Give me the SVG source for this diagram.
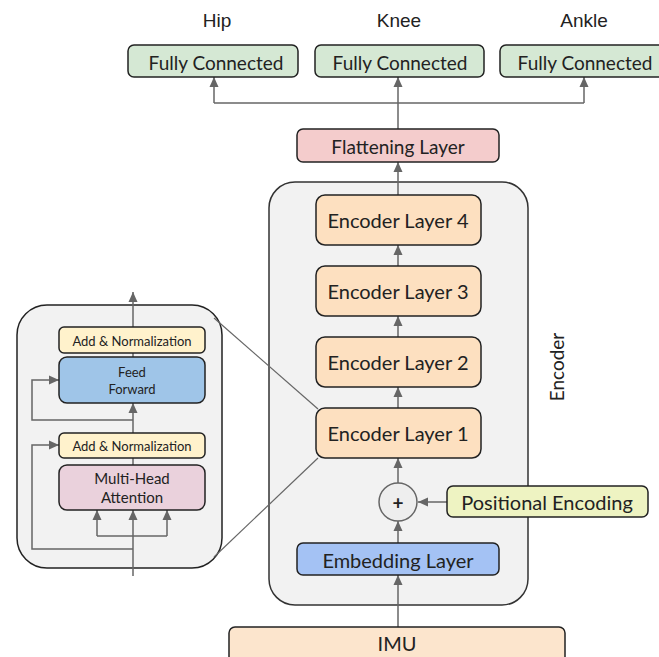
<svg xmlns="http://www.w3.org/2000/svg" width="659" height="657" viewBox="0 0 659 657">
<defs>
<marker id="ah" viewBox="0 0 10 10" refX="10" refY="5" markerWidth="10" markerHeight="10" markerUnits="userSpaceOnUse" orient="auto">
<path d="M0,0.5 L10,5 L0,9.5 z" fill="#666"/>
</marker>
<style>
.box{stroke:#222;stroke-width:1.5}
.t{font-family:Lato,"Open Sans",sans-serif;fill:#222;text-anchor:middle;dominant-baseline:central}
.lbl{font-family:"Liberation Sans",Arial,sans-serif;fill:#222;text-anchor:middle;font-size:19px}
.c{fill:none;stroke:#666;stroke-width:1.5}
.a{fill:none;stroke:#666;stroke-width:1.5;marker-end:url(#ah)}
.thin{fill:none;stroke:#666;stroke-width:1.2}
</style>
</defs>
<rect width="659" height="657" fill="#fff"/>

<g id="encoder-container">
<rect x="269" y="182" width="259" height="423" rx="26" fill="#f2f2f2" stroke="#333" stroke-width="1.5"/>
<text class="t" font-size="19" transform="translate(556,367) rotate(-90)">Encoder</text>
</g>

<g id="detail-container">
<rect x="17" y="305" width="205" height="263" rx="30" fill="#f2f2f2" stroke="#222" stroke-width="1.5"/>
</g>

<g id="connectors">
<line class="c" x1="398" y1="129" x2="398" y2="103"/>
<line class="c" x1="214" y1="103" x2="584" y2="103"/>
<line class="a" x1="214" y1="103" x2="214" y2="77"/>
<line class="a" x1="398" y1="103" x2="398" y2="77"/>
<line class="a" x1="584" y1="103" x2="584" y2="77"/>
<line class="a" x1="398" y1="195" x2="398" y2="162"/>
<line class="a" x1="398" y1="266" x2="398" y2="245"/>
<line class="a" x1="398" y1="337" x2="398" y2="316"/>
<line class="a" x1="398" y1="408" x2="398" y2="387"/>
<line class="a" x1="398" y1="483" x2="398" y2="458"/>
<line class="a" x1="398" y1="543" x2="398" y2="521"/>
<line class="a" x1="447" y1="502" x2="418" y2="502"/>
<line class="a" x1="398" y1="627" x2="398" y2="575"/>
<line class="thin" x1="214" y1="318" x2="318" y2="409"/>
<line class="thin" x1="214" y1="557" x2="318" y2="458"/>
<line class="a" x1="133" y1="576" x2="133" y2="510"/>
<line class="c" x1="97" y1="536" x2="167" y2="536"/>
<line class="a" x1="97" y1="536" x2="97" y2="510"/>
<line class="a" x1="167" y1="536" x2="167" y2="510"/>
<polyline class="a" points="133,549 32,549 32,445 59,445"/>
<line class="c" x1="133" y1="465" x2="133" y2="458"/>
<line class="a" x1="133" y1="433" x2="133" y2="403"/>
<polyline class="a" points="133,420 32,420 32,380 59,380"/>
<line class="c" x1="133" y1="357" x2="133" y2="353"/>
<line class="a" x1="133" y1="327" x2="133" y2="292"/>
</g>

<g id="label-hip"><text class="lbl" x="217" y="27">Hip</text></g>
<g id="label-knee"><text class="lbl" x="399" y="27">Knee</text></g>
<g id="label-ankle"><text class="lbl" x="584" y="27">Ankle</text></g>

<g id="fc-hip">
<rect class="box" x="128" y="45" width="170" height="32" rx="6" fill="#d5e8d4"/>
<text class="t" x="216" y="62" font-size="19">Fully Connected</text>
</g>
<g id="fc-knee">
<rect class="box" x="315" y="45" width="169" height="32" rx="6" fill="#d5e8d4"/>
<text class="t" x="400" y="62" font-size="19">Fully Connected</text>
</g>
<g id="fc-ankle">
<rect class="box" x="500" y="45" width="168" height="32" rx="6" fill="#d5e8d4"/>
<text class="t" x="585" y="62" font-size="19">Fully Connected</text>
</g>

<g id="flattening">
<rect class="box" x="297" y="129" width="202" height="33" rx="6" fill="#f4cccc"/>
<text class="t" x="398" y="146" font-size="19">Flattening Layer</text>
</g>

<g id="encoder-layer-4">
<rect class="box" x="316" y="195" width="165" height="50" rx="9" fill="#fde0c0"/>
<text class="t" x="398" y="220" font-size="20">Encoder Layer 4</text>
</g>
<g id="encoder-layer-3">
<rect class="box" x="316" y="266" width="165" height="50" rx="9" fill="#fde0c0"/>
<text class="t" x="398" y="291" font-size="20">Encoder Layer 3</text>
</g>
<g id="encoder-layer-2">
<rect class="box" x="316" y="337" width="165" height="50" rx="9" fill="#fde0c0"/>
<text class="t" x="398" y="362" font-size="20">Encoder Layer 2</text>
</g>
<g id="encoder-layer-1">
<rect class="box" x="316" y="408" width="165" height="50" rx="9" fill="#fde0c0"/>
<text class="t" x="398" y="433" font-size="20">Encoder Layer 1</text>
</g>

<g id="plus">
<circle cx="398" cy="502" r="19" fill="#eeeeee" stroke="#666" stroke-width="1.5"/>
<text class="t" x="398" y="502" font-size="19" font-weight="bold">+</text>
</g>

<g id="positional-encoding">
<rect class="box" x="447" y="486" width="201" height="31" rx="6" fill="#eef3c2"/>
<text class="t" x="547" y="502" font-size="20">Positional Encoding</text>
</g>

<g id="embedding">
<rect class="box" x="297" y="543" width="202" height="32" rx="6" fill="#a4c2f4"/>
<text class="t" x="398" y="560" font-size="20">Embedding Layer</text>
</g>

<g id="imu">
<rect class="box" x="229" y="627" width="336" height="40" rx="6" fill="#fce5cd"/>
<text class="t" x="397" y="643" font-size="20">IMU</text>
</g>

<g id="add-norm-top">
<rect class="box" x="59" y="327" width="146" height="26" rx="5" fill="#fff2cc"/>
<text class="t" x="132" y="341" font-size="13">Add &amp; Normalization</text>
</g>
<g id="feed-forward">
<rect class="box" x="59" y="357" width="146" height="46" rx="8" fill="#9fc5e8"/>
<text class="t" x="132" y="372" font-size="13">Feed</text>
<text class="t" x="132" y="389" font-size="13">Forward</text>
</g>
<g id="add-norm-bottom">
<rect class="box" x="59" y="433" width="146" height="25" rx="5" fill="#fff2cc"/>
<text class="t" x="132" y="446" font-size="13">Add &amp; Normalization</text>
</g>
<g id="multi-head-attention">
<rect class="box" x="59" y="465" width="146" height="45" rx="8" fill="#ead1dc"/>
<text class="t" x="132" y="478" font-size="15">Multi-Head</text>
<text class="t" x="132" y="497" font-size="15">Attention</text>
</g>
</svg>
